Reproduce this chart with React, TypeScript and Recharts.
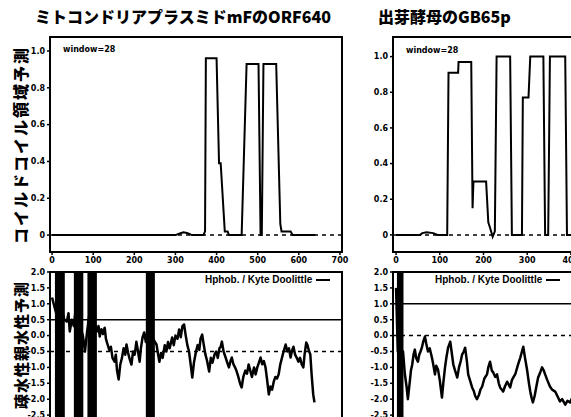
import React from 'react';
import { LineChart, Line, XAxis, YAxis, ReferenceLine, ReferenceArea } from 'recharts';

const titles = ['ミトコンドリアプラスミドmFのORF640', '出芽酵母のGB65p'];
const coilLabel = 'コイルドコイル領域予測';
const hydroLabel = '疎水性親水性予測';
const windowLabel = 'window=28';
const hydroLegend = 'Hphob. / Kyte Doolittle';

const residueTicksLeft = [0, 100, 200, 300, 400, 500, 600, 700];
const residueTicksRight = [0, 100, 200, 300, 400];
const coilTicks = [0, 0.2, 0.4, 0.6, 0.8, 1.0];
const hydroTicks = [-2.5, -2, -1.5, -1, -0.5, 0, 0.5, 1, 1.5, 2];

// coiled-coil probability, left protein (ORF640)
const coilLeftPos = [0, 300, 312, 320, 330, 340, 368, 372, 374, 400, 406, 410, 420, 427, 430, 461, 473, 502, 507, 510, 514, 545, 555, 558, 580, 585, 640];
const coilLeftVal = [0, 0, 0.01, 0.015, 0.01, 0, 0, 0.02, 0.96, 0.96, 0.39, 0.39, 0.02, 0.02, 0, 0, 0.93, 0.93, 0, 0, 0.93, 0.93, 0.06, 0.02, 0.02, 0, 0];

// coiled-coil probability, right protein
const coilRightPos = [0, 55, 60, 70, 85, 95, 117, 120, 142, 143, 172, 175, 177, 206, 211, 215, 221, 226, 230, 261, 265, 288, 290, 303, 307, 337, 341, 348, 352, 387, 391, 420];
const coilRightVal = [0, 0, 0.01, 0.015, 0.01, 0, 0, 0.91, 0.91, 0.97, 0.97, 0.15, 0.3, 0.3, 0.07, 0.04, -0.01, 0.02, 1.0, 1.0, 0, 0, 0.77, 0.77, 1.0, 1.0, 0, 0, 1.0, 1.0, 0, 0];

// hydropathy, left protein
const hydroLeftPos = [0, 6, 12, 18, 24, 30, 36, 40, 43, 48, 53, 58, 64, 70, 75, 80, 85, 90, 96, 102, 109, 113, 116, 120, 124, 128, 131, 135, 139, 143, 147, 152, 155, 158, 162, 166, 170, 174, 178, 181, 185, 189, 193, 197, 201, 205, 209, 213, 216, 220, 224, 228, 234, 240, 246, 250, 254, 258, 261, 265, 269, 274, 278, 282, 286, 292, 296, 300, 305, 309, 313, 317, 321, 325, 329, 333, 337, 341, 345, 350, 354, 358, 361, 365, 369, 373, 377, 382, 386, 390, 395, 399, 403, 407, 410, 413, 417, 421, 426, 430, 434, 437, 441, 445, 449, 453, 457, 461, 465, 470, 474, 478, 482, 486, 491, 495, 499, 503, 507, 511, 515, 519, 523, 527, 531, 535, 539, 543, 547, 551, 555, 559, 563, 568, 572, 576, 580, 583, 587, 591, 595, 599, 603, 607, 611, 614, 618, 621, 624, 628, 631, 635, 638];
const hydroLeftVal = [1.2, 0.9, 0.6, 1.4, 0.8, 0.5, 0.44, 0.7, 0.13, 0.5, 0.3, 0.9, 0.6, 0.2, 0.0, -0.5, 0.1, 0.6, 0.3, 0.5, 0.13, 0.3, -0.03, 0.2, 0.05, 0.25, -0.1, -0.28, -0.45, -0.35, -0.7, -0.82, -0.6, -1.1, -1.38, -0.9, -0.7, -0.4, -0.6, -0.28, -0.55, -0.75, -0.91, -0.5, -0.6, -0.19, -0.5, -0.82, -0.4, -0.06, 0.1, -0.2, 0.3, 0.0, -0.1, -0.2, -0.28, -0.6, -0.82, -0.55, -0.7, -0.3, -0.5, -0.2, -0.4, -0.06, -0.3, 0.0, -0.1, 0.19, -0.05, 0.3, 0.35, 0.0, -0.3, -0.5, -0.9, -1.32, -0.85, -0.5, -0.3, -0.45, -0.1, 0.03, -0.3, -0.6, -0.8, -1.13, -0.7, -0.85, -0.6, -0.5, -0.7, -0.4, -0.35, -0.19, -0.5, -0.65, -0.85, -1.0, -0.8, -0.69, -0.9, -1.0, -1.13, -1.3, -1.5, -1.63, -1.3, -1.1, -1.2, -0.91, -1.1, -1.3, -1.0, -1.22, -1.0, -0.85, -0.69, -0.9, -0.8, -1.0, -1.4, -1.85, -1.6, -1.7, -1.45, -1.3, -1.35, -1.22, -0.9, -0.7, -0.5, -0.28, -0.5, -0.4, -0.69, -0.5, -0.35, -0.6, -0.7, -0.82, -0.7, -0.9, -1.0, -0.6, -0.22, -0.3, -0.45, -0.6, -1.2, -1.85, -2.1];

// hydropathy, right protein
const hydroRightPos = [0, 4, 8, 12, 16, 20, 24, 27, 31, 34, 37, 40, 43, 46, 50, 53, 56, 59, 62, 66, 69, 73, 77, 82, 85, 89, 92, 96, 100, 105, 108, 112, 115, 119, 124, 127, 131, 135, 140, 144, 148, 151, 155, 158, 162, 165, 169, 174, 178, 181, 185, 190, 193, 197, 202, 208, 211, 215, 219, 222, 227, 231, 235, 238, 242, 245, 249, 254, 258, 261, 265, 268, 273, 279, 284, 288, 291, 295, 300, 304, 307, 310, 313, 317, 321, 325, 330, 334, 338, 341, 346, 352, 357, 364, 369, 375, 380, 387, 392, 398, 405];
const hydroRightVal = [1.5, -0.5, 0.8, -1.0, -0.5, -1.2, -1.6, -2.0, -1.5, -1.1, -0.91, -0.6, -0.44, -0.7, -0.82, -0.6, -0.5, -0.38, -0.2, -0.03, -0.25, -0.5, -0.4, -0.69, -0.9, -1.22, -0.95, -1.07, -1.4, -1.95, -1.5, -1.0, -0.7, -0.38, -0.19, -0.5, -0.91, -1.1, -1.32, -1.0, -0.8, -0.6, -0.5, -0.38, -0.8, -1.22, -1.4, -1.63, -1.75, -1.9, -2.0, -1.85, -1.7, -1.6, -1.35, -1.22, -1.0, -0.82, -1.1, -1.15, -1.3, -1.22, -1.5, -1.63, -1.7, -1.76, -1.6, -1.45, -1.55, -1.63, -1.4, -1.32, -1.2, -0.91, -0.7, -0.5, -0.35, -0.7, -1.1, -1.5, -1.76, -1.95, -2.1, -1.9, -1.6, -1.32, -1.15, -1.0, -1.1, -1.22, -1.4, -1.6, -1.7, -1.76, -1.9, -2.07, -2.0, -2.17, -2.05, -2.1, -1.9];

// stretches where the hydropathy trace runs off scale (drawn solid black)
const offScaleLeft = [[7, 31], [53, 76], [86, 109], [228, 250]];
const offScaleRight = [[2, 17]];

const font = '"DejaVu Sans", sans-serif';
const jp = '"Noto Sans CJK JP", sans-serif';
const tickStyle = { fontSize: 8, fontWeight: 700, fill: '#000', fontFamily: font };
const axisLine = { stroke: '#000', strokeWidth: 2 };
const tickLine = { stroke: '#000', strokeWidth: 1.5 };

function CoilChart({ pos, val, xDomain, yDomain, xTicks }: any) {
  const data = pos.map((x: number, i: number) => ({ x, v: val[i] }));
  return (
    <LineChart width={350} height={270} data={data} margin={{ top: 37, right: 8, bottom: 0, left: 0 }}>
      <XAxis type="number" dataKey="x" domain={xDomain} ticks={xTicks} interval={0} allowDataOverflow
        height={18} tick={tickStyle} tickSize={3} axisLine={axisLine} tickLine={tickLine} />
      <YAxis type="number" domain={yDomain} ticks={coilTicks} interval={0} allowDataOverflow width={50}
        tick={tickStyle} tickSize={3} axisLine={axisLine} tickLine={tickLine}
        tickFormatter={(v: number) => (v === 0 ? '0' : v.toFixed(1))} />
      <ReferenceArea x1={xDomain[0]} x2={xDomain[1]} y1={yDomain[0]} y2={yDomain[1]}
        fill="none" stroke="#000" strokeWidth={2} />
      <ReferenceLine y={0} stroke="#000" strokeWidth={1.5} strokeDasharray="4 4" />
      <Line type="linear" dataKey="v" stroke="#000" strokeWidth={2} dot={false} isAnimationActive={false} />
    </LineChart>
  );
}

function HydroChart({ pos, val, xDomain, xTicks, bars, solidAt, dashedAt }: any) {
  const data = pos.map((x: number, i: number) => ({ x, v: val[i] }));
  const yDomain = [-3, 2];
  return (
    <LineChart width={350} height={196} data={data} margin={{ top: 17, right: 8, bottom: 0, left: 0 }}>
      {/* the x-axis labels of the lower panels fall below the cropped page */}
      <XAxis type="number" dataKey="x" domain={xDomain} ticks={xTicks} interval={0} allowDataOverflow
        height={20} tick={false} tickSize={3} axisLine={axisLine} tickLine={tickLine} />
      <YAxis type="number" domain={yDomain} ticks={hydroTicks} interval={0} allowDataOverflow width={50}
        tick={tickStyle} tickSize={3} axisLine={axisLine} tickLine={tickLine}
        tickFormatter={(v: number) => v.toFixed(1)} />
      <ReferenceArea x1={xDomain[0]} x2={xDomain[1]} y1={yDomain[0]} y2={yDomain[1]}
        fill="none" stroke="#000" strokeWidth={2} />
      <ReferenceLine y={solidAt} stroke="#000" strokeWidth={1.5} />
      <ReferenceLine y={dashedAt} stroke="#000" strokeWidth={1.5} strokeDasharray="4 4" />
      <Line type="linear" dataKey="v" stroke="#000" strokeWidth={2.5} strokeLinejoin="round" dot={false}
        isAnimationActive={false} />
      {bars.map((b: number[], i: number) => (
        <ReferenceArea key={i} x1={b[0]} x2={b[1]} y1={yDomain[0]} y2={yDomain[1]}
          fill="#000" fillOpacity={1} stroke="none" />
      ))}
    </LineChart>
  );
}

const abs = (left: number, top: number): React.CSSProperties => ({ position: 'absolute', left, top });

function VerticalLabel({ text, left, top, size, spacing }: any) {
  return (
    <div style={{
      ...abs(left, top), transform: 'translate(-50%, -50%) rotate(-90deg)', whiteSpace: 'nowrap',
      fontFamily: jp, fontWeight: 900, fontSize: size, letterSpacing: spacing, lineHeight: 1, color: '#000',
    }}>{text}</div>
  );
}

function Legend({ left, top }: any) {
  return (
    <div style={{ ...abs(left, top), display: 'flex', alignItems: 'center', whiteSpace: 'nowrap',
      fontFamily: '"Liberation Sans", sans-serif', fontWeight: 700, fontSize: 10, color: '#000' }}>
      {hydroLegend}
      <span style={{ display: 'inline-block', width: 14, height: 2, background: '#000', marginLeft: 4 }} />
    </div>
  );
}

export default function App() {
  return (
    <div style={{ position: 'absolute', left: 0, top: 0, width: 571, height: 417, overflow: 'hidden', background: '#fff' }}>
      <div style={{ ...abs(35, 4), fontFamily: jp, fontWeight: 900, fontSize: 16, whiteSpace: 'nowrap' }}>{titles[0]}</div>
      <div style={{ ...abs(378, 4), fontFamily: jp, fontWeight: 900, fontSize: 16, whiteSpace: 'nowrap' }}>{titles[1]}</div>

      <VerticalLabel text={coilLabel} left={20} top={145} size={16} spacing={2} />
      <VerticalLabel text={hydroLabel} left={20} top={345} size={15} spacing={1} />

      <div style={abs(0, 0)}>
        <CoilChart pos={coilLeftPos} val={coilLeftVal} xDomain={[-5, 705]} yDomain={[-0.092, 1.076]} xTicks={residueTicksLeft} />
      </div>
      <div style={abs(343, 0)}>
        <CoilChart pos={coilRightPos} val={coilRightVal} xDomain={[-7, 661]} yDomain={[-0.096, 1.11]} xTicks={residueTicksRight} />
      </div>
      <div style={abs(0, 255)}>
        <HydroChart pos={hydroLeftPos} val={hydroLeftVal} xDomain={[-5, 705]} xTicks={residueTicksLeft}
          bars={offScaleLeft} solidAt={0.5} dashedAt={-0.5} />
      </div>
      <div style={abs(343, 255)}>
        <HydroChart pos={hydroRightPos} val={hydroRightVal} xDomain={[-7, 661]} xTicks={residueTicksRight}
          bars={offScaleRight} solidAt={1} dashedAt={0} />
      </div>

      <div style={{ ...abs(63, 45), fontFamily: font, fontWeight: 700, fontSize: 8 }}>{windowLabel}</div>
      <div style={{ ...abs(406, 46), fontFamily: font, fontWeight: 700, fontSize: 8 }}>{windowLabel}</div>
      <Legend left={205} top={274} />
      <Legend left={435} top={274} />
    </div>
  );
}
